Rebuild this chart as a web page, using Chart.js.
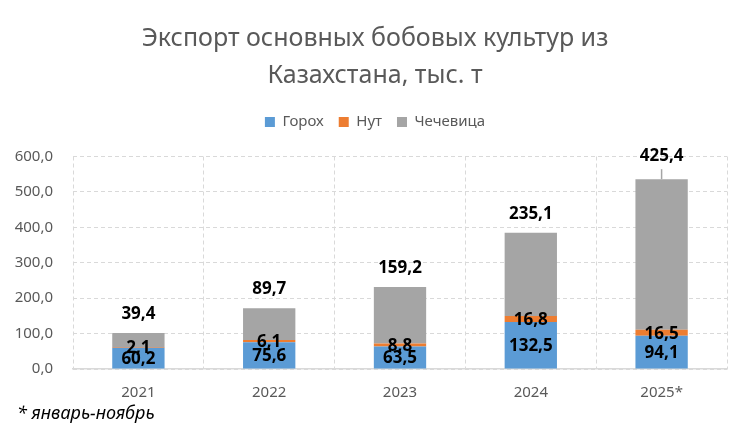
<!DOCTYPE html>
<html>
<head>
<meta charset="utf-8">
<script src="https://cdn.jsdelivr.net/npm/chart.js@4.4.1/dist/chart.umd.min.js"></script>
<style>
    html, body { margin: 0; padding: 0; background: #fff; }
    #wrap { position: relative; width: 750px; height: 433px; }
    #note { position: absolute; left: 17px; top: 400px; font: italic 18px 'Noto Sans', sans-serif; color: #000; }
</style>
</head>
<body>
<div id="wrap">
    <canvas id="chart" width="750" height="433"></canvas>
    <div id="note">* январь-ноябрь</div>
</div>
<script>
const years = ['2021', '2022', '2023', '2024', '2025*'];
const peas = [60.2, 75.6, 63.5, 132.5, 94.1];
const chickpeas = [2.1, 6.1, 8.8, 16.8, 16.5];
const lentils = [39.4, 89.7, 159.2, 235.1, 425.4];
const seriesNames = ['Горох', 'Нут', 'Чечевица'];
const titleLines = ['Экспорт основных бобовых культур из', 'Казахстана, тыс. т'];

const fmt = v => v.toFixed(1).replace('.', ',');
const FONT = "'Noto Sans', sans-serif";

// draws value labels: inside for peas/chickpeas, above the bar for lentils
const valueLabels = {
    id: 'valueLabels',
    afterDatasetsDraw(chart) {
        const ctx = chart.ctx;
        ctx.save();
        ctx.font = `bold 17px ${FONT}`;
        ctx.fillStyle = '#000';
        ctx.textAlign = 'center';
        ctx.textBaseline = 'middle';
        chart.data.datasets.forEach((ds, i) => {
            const meta = chart.getDatasetMeta(i);
            meta.data.forEach((bar, j) => {
                const text = fmt(ds.data[j]);
                if (i < 2) {
                    ctx.fillText(text, bar.x, (bar.y + bar.base) / 2 + 1);
                } else if (j === ds.data.length - 1) {
                    ctx.strokeStyle = '#A5A5A5';
                    ctx.lineWidth = 1.5;
                    ctx.beginPath();
                    ctx.moveTo(bar.x, bar.y);
                    ctx.lineTo(bar.x, bar.y - 10);
                    ctx.stroke();
                    ctx.fillText(text, bar.x, bar.y - 23);
                } else {
                    ctx.fillText(text, bar.x, bar.y - 19);
                }
            });
        });
        ctx.restore();
    }
};

// extra space under the legend
const legendGap = {
    id: 'legendGap',
    beforeInit(chart) {
        const fit = chart.legend.fit;
        chart.legend.fit = function () {
            fit.bind(chart.legend)();
            this.height += 17;
        };
    }
};

new Chart(document.getElementById('chart'), {
    type: 'bar',
    data: {
        labels: years,
        datasets: [
            { label: seriesNames[0], data: peas, backgroundColor: '#5B9BD5' },
            { label: seriesNames[1], data: chickpeas, backgroundColor: '#ED7D31' },
            { label: seriesNames[2], data: lentils, backgroundColor: '#A5A5A5' }
        ]
    },
    options: {
        responsive: false,
        animation: false,
        layout: { padding: { left: 0, right: 0, top: 0, bottom: 16 } },
        datasets: { bar: { categoryPercentage: 1, barPercentage: 0.4 } },
        scales: {
            x: {
                stacked: true,
                grid: { color: '#D9D9D9', drawTicks: false },
                border: { color: '#D9D9D9', width: 1.5, dash: [4, 3] },
                ticks: { color: '#595959', font: { family: FONT, size: 15 }, padding: 15 }
            },
            y: {
                stacked: true,
                min: 0,
                max: 600,
                afterFit: s => { s.width = 73; },
                grid: { color: '#D9D9D9', drawTicks: false },
                border: { display: false, dash: [4, 3] },
                ticks: {
                    stepSize: 100,
                    color: '#595959',
                    padding: 20,
                    font: { family: FONT, size: 15 },
                    callback: v => fmt(v)
                }
            },
            // empty right margin so the title and legend stay centred on the page
            yRight: {
                position: 'right',
                afterFit: s => { s.width = 23; },
                grid: { display: false },
                border: { display: false },
                ticks: { display: false }
            }
        },
        plugins: {
            title: {
                display: true,
                text: titleLines,
                color: '#595959',
                font: { family: FONT, size: 25, weight: 'normal', lineHeight: 1.45 },
                padding: { top: 21, bottom: 6 }
            },
            legend: {
                display: true,
                labels: {
                    color: '#595959',
                    font: { family: FONT, size: 15 },
                    boxWidth: 10,
                    boxHeight: 10,
                    padding: 15
                }
            },
            tooltip: { enabled: false }
        }
    },
    plugins: [valueLabels, legendGap]
});
</script>
</body>
</html>
